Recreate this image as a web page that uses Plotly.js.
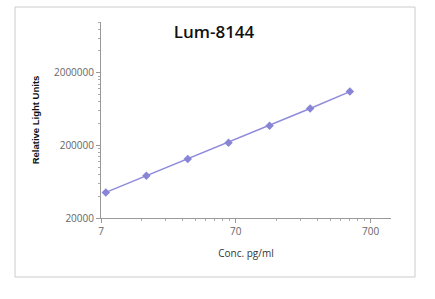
<!DOCTYPE html>
<html><head><meta charset="utf-8">
<script src="https://cdn.plot.ly/plotly-3.0.1.min.js"></script>
<style>html,body{margin:0;padding:0;background:#fff;}#chart{width:435px;height:299px;}</style>
</head><body><div id="chart"></div>
<script>
const concentration = [7.6, 15.2, 30.8, 61.8, 124.5, 249, 491];
const rlu = [45000, 76400, 129700, 217500, 372000, 644000, 1101000];
const xTickVals = [7, 70, 700];
const xTickText = ['7', '70', '700'];
const yTickVals = [20000, 200000, 2000000];
const yTickText = ['20000', '200000', '2000000'];

function minorVals(bases, maxV) {
  const out = [];
  bases.forEach(b => { for (let k = 2; k <= 9; k++) { if (b * k <= maxV) out.push(b * k); } });
  return out;
}

const trace = {
  x: concentration, y: rlu, type: 'scatter', mode: 'lines+markers',
  line: {color: '#8f8bdc', width: 1.5},
  marker: {symbol: 'diamond', size: 6.5, color: '#8985d6'},
  hoverinfo: 'x+y'
};

const axisFont = {family: 'Open Sans, Liberation Sans, sans-serif', size: 10, color: '#666'};

const layout = {
  width: 435, height: 299,
  margin: {l: 101, r: 44, t: 22, b: 81},
  paper_bgcolor: '#fff', plot_bgcolor: '#fff',
  showlegend: false,
  title: {text: 'Lum-8144', x: 0.492, xanchor: 'center', y: 0.893, yanchor: 'middle', yref: 'container',
    font: {family: 'Open Sans, Liberation Sans, sans-serif', size: 17, color: '#111', weight: 600}},
  xaxis: {
    type: 'log', range: [Math.log10(7), 2.996],
    tickmode: 'array', tickvals: xTickVals, ticktext: xTickText,
    ticks: 'outside', ticklen: 4, tickcolor: '#999', tickfont: axisFont,
    showline: true, linecolor: '#999', linewidth: 1, showgrid: false, zeroline: false,
    minor: {tickmode: 'array', tickvals: minorVals([7, 70], 990), ticks: 'outside', ticklen: 2, tickcolor: '#aaa', showgrid: false},
    title: {text: 'Conc. pg/ml', standoff: 12, font: {family: 'Open Sans, Liberation Sans, sans-serif', size: 10, color: '#333'}}
  },
  yaxis: {
    type: 'log', range: [Math.log10(20000), 7],
    tickmode: 'array', tickvals: yTickVals, ticktext: yTickText,
    ticks: 'outside', ticklen: 4, tickcolor: '#999', tickfont: axisFont,
    showline: true, linecolor: '#999', linewidth: 1, showgrid: false, zeroline: false,
    minor: {tickmode: 'array', tickvals: minorVals([20000, 200000, 2000000], 1e7), ticks: 'outside', ticklen: 2, tickcolor: '#aaa', showgrid: false},
    title: {text: 'Relative Light Units', standoff: 12, font: {family: 'Liberation Sans, Arial, sans-serif', size: 9.5, color: '#111', weight: 700}}
  },
  shapes: [{type: 'rect', xref: 'paper', yref: 'paper',
    x0: (15 - 101) / 290, x1: (415 - 101) / 290, y0: (218 - 277) / 196, y1: (218 - 7) / 196,
    line: {color: '#ccc', width: 1}, fillcolor: 'rgba(0,0,0,0)', layer: 'below'}]
};

Plotly.newPlot('chart', [trace], layout, {staticPlot: true, displayModeBar: false});
</script></body></html>
